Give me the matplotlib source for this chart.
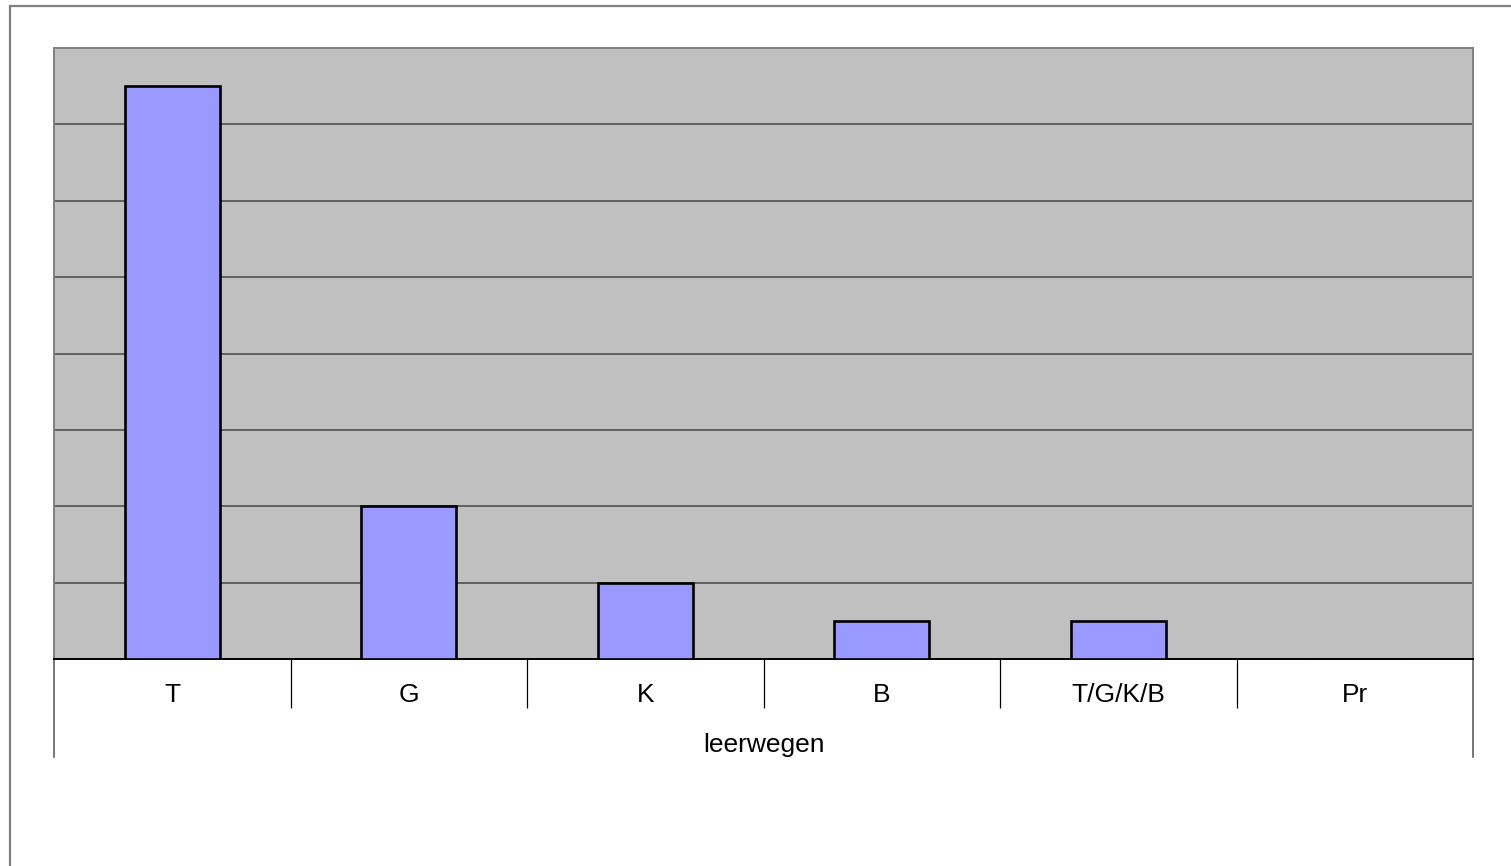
import matplotlib.pyplot as plt
from matplotlib.patches import Rectangle
from matplotlib.lines import Line2D

# data
categories = ["T", "G", "K", "B", "T/G/K/B", "Pr"]
values = [7.5, 2, 1, 0.5, 0.5, 0]
axis_title = "leerwegen"

plt.rcParams['font.family'] = ['Liberation Sans', 'DejaVu Sans']

W, H = 1511, 866
fig = plt.figure(figsize=(W / 100, H / 100), dpi=100)

# outer chart border (runs off the right and bottom edge)
fig.patches.append(Rectangle((9.5 / W, -0.05), 1.1, 1.05 - 5.5 / H,
                             transform=fig.transFigure, fill=False,
                             edgecolor='#808080', linewidth=1.6))

left, right, top, bottom = 54, 1473, 48, 659
ax = fig.add_axes([left / W, (H - bottom) / H, (right - left) / W, (bottom - top) / H])
ax.set_facecolor('#c0c0c0')

x = range(len(categories))
ax.bar(x, values, width=0.4, color='#9999ff', edgecolor='black', linewidth=1.9, zorder=3)

ax.set_xlim(-0.5, len(categories) - 0.5)
ax.set_ylim(0, 8)
ax.set_yticks(range(1, 8))
ax.yaxis.grid(True, color='#5a5a5a', linewidth=1.3, zorder=1)
ax.tick_params(axis='y', left=False, labelleft=False)

ax.set_xticks(list(x))
ax.set_xticklabels(categories, fontsize=19)
ax.tick_params(axis='x', bottom=False, pad=14)
ax.set_xticks([i + 0.5 for i in range(len(categories) - 1)], minor=True)
ax.tick_params(axis='x', which='minor', length=35, width=0.9, color='black', direction='out')

for side in ['left', 'top', 'right']:
    ax.spines[side].set_color('#808080')
    ax.spines[side].set_linewidth(1.4)
ax.spines['bottom'].set_color('black')
ax.spines['bottom'].set_linewidth(1.4)

# outer separators of the category axis
trans = ax.get_xaxis_transform()
depth = (757 - bottom) / (bottom - top)
for xv in [-0.5, len(categories) - 0.5]:
    ax.add_line(Line2D([xv, xv], [0, -depth], transform=trans, color='#606060',
                       linewidth=1.2, clip_on=False))

ax.text(0.5, -(745 - bottom) / (bottom - top), axis_title, transform=ax.transAxes,
        ha='center', va='center', fontsize=19)

fig.savefig('out.png', dpi=100)
